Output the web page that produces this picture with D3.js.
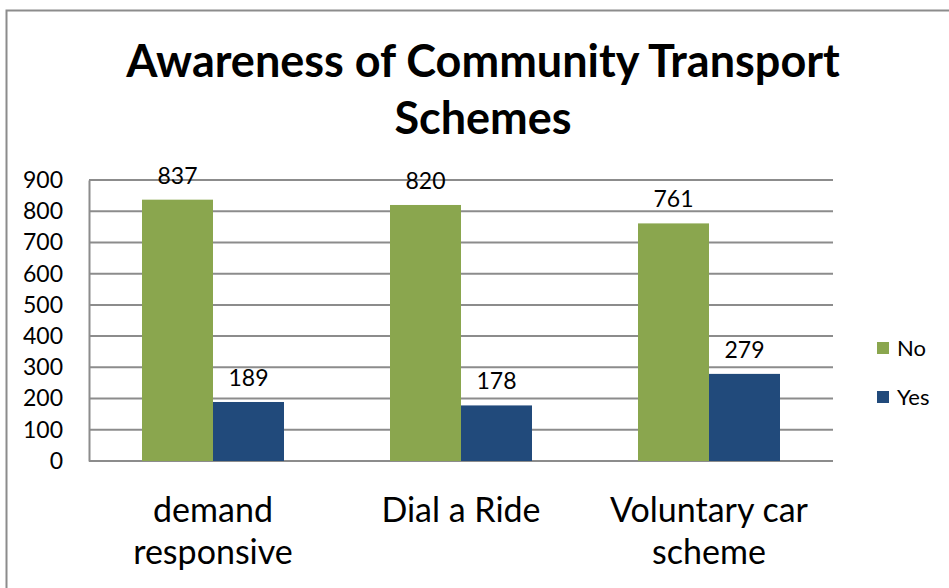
<!DOCTYPE html>
<html>
<head>
<meta charset="utf-8">
<script src="https://cdn.jsdelivr.net/npm/d3@7"></script>
<style>
  body { margin: 0; background: #fff; }
  text { font-family: Lato, "Noto Sans", sans-serif; fill: #000; }
</style>
</head>
<body>
<div class="grafico"></div>
<script>
// data
const categories = [["demand", "responsive"], ["Dial a Ride"], ["Voluntary car", "scheme"]];
const seriesNames = ["No", "Yes"];
const noValues = [837, 820, 761];
const yesValues = [189, 178, 279];
const yTicks = [0, 100, 200, 300, 400, 500, 600, 700, 800, 900];
const colors = ["#8aa64e", "#214a7b"];

var width = 949, height = 588;
var plot = { left: 89, right: 833, top: 180, bottom: 461 };

let svg = d3.select(".grafico")
  .append("svg")
  .attr("width", width)
  .attr("height", height);

// outer border (only top and left visible in reference)
svg.append("rect")
  .attr("x", 6.5).attr("y", 10.5)
  .attr("width", 960).attr("height", 600)
  .attr("fill", "none")
  .attr("stroke", "#8c8c8c")
  .attr("stroke-width", 2);

// title
svg.append("text")
  .attr("x", 483).attr("y", 77)
  .attr("text-anchor", "middle")
  .attr("font-size", 45).attr("font-weight", "bold")
  .text("Awareness of Community Transport");
svg.append("text")
  .attr("x", 483).attr("y", 134)
  .attr("text-anchor", "middle")
  .attr("font-size", 45).attr("font-weight", "bold")
  .text("Schemes");

const x = d3.scaleBand()
  .domain(d3.range(categories.length))
  .range([plot.left, plot.right])
  .padding(0);

const x1 = d3.scaleBand()
  .domain(seriesNames)
  .range([53, x.bandwidth() - 53])
  .padding(0);

const y = d3.scaleLinear()
  .domain([0, 900])
  .range([plot.bottom, plot.top]);

// gridlines
svg.append("g")
  .selectAll("line")
  .data(yTicks.filter(d => d > 0))
  .enter().append("line")
  .attr("x1", plot.left).attr("x2", plot.right)
  .attr("y1", d => y(d)).attr("y2", d => y(d))
  .attr("stroke", "#8c8c8c")
  .attr("stroke-width", 2);

// y axis
const yAxis = d3.axisLeft(y).tickValues(yTicks).tickSize(0).tickPadding(26);
svg.append("g")
  .attr("class", "y axis")
  .attr("transform", "translate(" + plot.left + ",0)")
  .call(yAxis)
  .call(g => g.select(".domain").attr("stroke", "#8c8c8c").attr("stroke-width", 2))
  .selectAll("text")
  .attr("font-size", 23)
  .attr("font-family", "Lato, 'Noto Sans', sans-serif");

// x axis line
svg.append("line")
  .attr("x1", plot.left).attr("x2", plot.right)
  .attr("y1", plot.bottom).attr("y2", plot.bottom)
  .attr("stroke", "#8c8c8c").attr("stroke-width", 2);

const rows = categories.map((c, i) => ({ i: i, No: noValues[i], Yes: yesValues[i] }));

const groups = svg.append("g")
  .selectAll("g")
  .data(rows)
  .enter().append("g")
  .attr("transform", d => "translate(" + x(d.i) + ",0)");

groups.selectAll("rect")
  .data(d => seriesNames.map((s, k) => ({ key: s, value: d[s], k: k })))
  .enter().append("rect")
  .attr("x", d => x1(d.key))
  .attr("y", d => y(d.value))
  .attr("width", x1.bandwidth())
  .attr("height", d => y(0) - y(d.value))
  .attr("fill", d => colors[d.k]);

groups.selectAll("text.val")
  .data(d => seriesNames.map((s, k) => ({ key: s, value: d[s], k: k })))
  .enter().append("text")
  .attr("class", "val")
  .attr("x", d => x1(d.key) + x1.bandwidth() / 2)
  .attr("y", d => y(d.value) - 16)
  .attr("text-anchor", "middle")
  .attr("font-size", 23)
  .text(d => d.value);

// category labels
svg.append("g")
  .selectAll("text")
  .data(categories)
  .enter().append("text")
  .attr("x", (d, i) => x(i) + x.bandwidth() / 2)
  .attr("y", 522)
  .attr("text-anchor", "middle")
  .attr("font-size", 34)
  .each(function(d) {
    d3.select(this).selectAll("tspan")
      .data(d)
      .enter().append("tspan")
      .attr("x", d3.select(this).attr("x"))
      .attr("dy", (t, j) => j === 0 ? 0 : 42)
      .text(t => t);
  });

// legend
const legendRectSize = 12;
var legend = svg.append("g")
  .selectAll("g")
  .data(seriesNames)
  .enter().append("g")
  .attr("transform", (d, i) => "translate(877," + (342 + i * 49) + ")");

legend.append("rect")
  .attr("width", legendRectSize)
  .attr("height", legendRectSize)
  .attr("fill", (d, i) => colors[i]);

legend.append("text")
  .attr("x", 20)
  .attr("y", 14)
  .attr("font-size", 22)
  .text(d => d);
</script>
</body>
</html>
